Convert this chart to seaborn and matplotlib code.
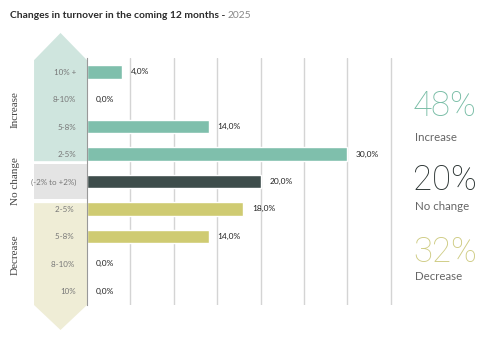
import matplotlib
matplotlib.use("Agg")
import matplotlib.pyplot as plt
from matplotlib.patches import Polygon, Rectangle
import seaborn as sns
import pandas as pd

categories = ["10% +", "8-10%", "5-8%", "2-5%", "(-2% to +2%)", "2-5% ", "5-8% ", "8-10% ", "10%"]
values = [4.0, 0.0, 14.0, 30.0, 20.0, 18.0, 14.0, 0.0, 0.0]
groups = ["Increase", "Increase", "Increase", "Increase", "No change",
          "Decrease", "Decrease", "Decrease", "Decrease"]
summary_values = ["48%", "20%", "32%"]
summary_labels = ["Increase", "No change", "Decrease"]

bar_colors = {"Increase": "#7fbfac", "No change": "#3e4d4b", "Decrease": "#cfcb72"}
sum_colors = ["#79bda6", "#2a3332", "#cfcc84"]

df = pd.DataFrame({"cat": categories, "val": values, "grp": groups})

sns.set_theme(style="white")
plt.rcParams["font.family"] = ["Lato", "DejaVu Sans"]

fig = plt.figure(figsize=(5.0, 3.47), dpi=100)
ax = fig.add_axes([0.174, 0.121, 0.612, 0.712])

sns.barplot(data=df, y="cat", x="val", hue="grp", palette=bar_colors,
            orient="h", dodge=False, width=0.5, legend=False, ax=ax,
            order=categories, saturation=1)

ax.set_xlim(0, 35.25)
ax.set_ylim(8.5, -0.5)
ax.set_xticks([5, 10, 15, 20, 25, 30, 35])
ax.xaxis.grid(True, color="#d4d4d4", linewidth=1)
ax.set_axisbelow(True)
ax.tick_params(axis="x", labelbottom=False, length=0)
ax.tick_params(axis="y", length=0, pad=8, labelsize=5.8, labelcolor="#777777")
ax.set_xlabel("")
ax.set_ylabel("")
for s in ["top", "right", "bottom"]:
    ax.spines[s].set_visible(False)
ax.spines["left"].set_color("#999999")
ax.spines["left"].set_linewidth(0.8)

# value labels
for i, v in enumerate(values):
    ax.text(v + 1.0, i, f"{v:.1f}".replace(".", ",") + "%", va="center", ha="left",
            fontsize=6, color="#222222")

# background arrows (data coords, unclipped)
xl, xr = -6.1, 0.0
xc = (xl + xr) / 2
inc = Polygon([(xl, -0.42), (xc, -1.41), (xr, -0.42), (xr, 3.26), (xl, 3.26)],
              closed=True, facecolor="#cfe5de", edgecolor="none", clip_on=False, zorder=0)
nc = Rectangle((xl, 3.37), xr - xl, 1.28, facecolor="#e4e4e4", edgecolor="none",
               clip_on=False, zorder=0)
dec = Polygon([(xl, 4.79), (xr, 4.79), (xr, 8.5), (xc, 9.41), (xl, 8.5)],
              closed=True, facecolor="#efedd6", edgecolor="none", clip_on=False, zorder=0)
for p in (inc, nc, dec):
    ax.add_patch(p)

# rotated group labels
for y, t in [(110, "Increase"), (181, "No change"), (255, "Decrease")]:
    fig.text(15 / 500, 1 - y / 347, t, rotation=90, ha="center", va="center",
             fontsize=8, family=["Liberation Serif"], color="#444444")

# title
t1 = fig.text(10 / 500, 1 - 15 / 347, "Changes in turnover in the coming 12 months -",
              fontsize=7.4, fontweight="bold", color="#2b2b2b", va="center", ha="left")
fig.canvas.draw()
bb = t1.get_window_extent()
fig.text((bb.x1 + 2.5) / 500, 1 - 15 / 347, "2025", fontsize=7.4,
         color="#888888", va="center", ha="left")

# summary
for (yv, yl), sv, sl, c in zip([(106, 137), (180, 207), (252, 276)],
                              summary_values, summary_labels, sum_colors):
    fig.text(413 / 500, 1 - yv / 347, sv, fontsize=25, fontweight="light",
             family=["Roboto", "DejaVu Sans"], color=c, va="center", ha="left")
    fig.text(415 / 500, 1 - yl / 347, sl, fontsize=8.3, color="#666666",
             va="center", ha="left")

fig.savefig("out.png", dpi=100)
